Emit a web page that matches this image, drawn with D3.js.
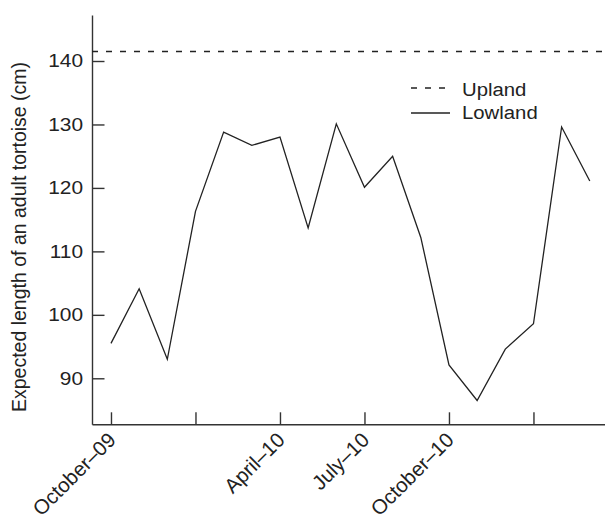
<!DOCTYPE html>
<html>
<head>
<meta charset="utf-8">
<script src="https://cdn.jsdelivr.net/npm/d3@7"></script>
<style>
  html, body { margin: 0; padding: 0; background: #fff; }
  svg { display: block; font-family: "Liberation Sans", Arial, Helvetica, sans-serif; }
</style>
</head>
<body>
<svg id="chart" width="605" height="515"></svg>
<script>
// Monthly survey periods, October 2009 to March 2011
const months = ["Oct-09", "Nov-09", "Dec-09", "Jan-10", "Feb-10", "Mar-10",
                "Apr-10", "May-10", "Jun-10", "Jul-10", "Aug-10", "Sep-10",
                "Oct-10", "Nov-10", "Dec-10", "Jan-11", "Feb-11", "Mar-11"];

// Expected adult length (cm) in the lowland population, per month
const lowland = [95.5, 104.1, 93.0, 116.3, 128.8, 126.7, 128.0, 113.7, 130.1,
                 120.1, 125.0, 112.2, 92.1, 86.5, 94.6, 98.6, 129.6, 121.1];

// Upland population: constant expected adult length (cm)
const upland = 141.5;

// Quarterly x ticks (month index) and their labels
const xTickIndex = [0, 3, 6, 9, 12, 15];
const xTickLabels = ["October\u201309", "", "April\u201310", "July\u201310", "October\u201310", ""];

const yTicks = [90, 100, 110, 120, 130, 140];
const legendItems = ["Upland", "Lowland"];

const svg = d3.select("#chart");
const ink = "#222";
const wide = 1.13;   // horizontal widening of the lettering

const x = d3.scaleLinear().domain([-0.674, 17.54]).range([92, 605]);
const y = d3.scaleLinear().domain([82.75, 147.25]).range([424.3, 15]);

// Y axis with inward ticks
const yAxis = svg.append("g")
  .attr("transform", `translate(${x.range()[0]},0)`)
  .call(d3.axisLeft(y).tickValues(yTicks).tickSize(-12.5).tickPadding(9).tickSizeOuter(0));

// X axis with inward ticks, labels drawn separately
const xAxis = svg.append("g")
  .attr("transform", `translate(0,${y.range()[0]})`)
  .call(d3.axisBottom(x).tickValues(xTickIndex).tickSize(-12).tickSizeOuter(0).tickFormat(""));

[yAxis, xAxis].forEach(g => {
  g.select(".domain").attr("stroke", "#333").attr("stroke-width", 1.4);
  g.selectAll(".tick line").attr("stroke", "#333").attr("stroke-width", 1.4);
});

// Widen the y tick labels about their right edge
yAxis.selectAll(".tick text").each(function () {
  const t = d3.select(this);
  const tx = +t.attr("x");
  t.attr("x", 0)
   .attr("transform", `translate(${tx},0) scale(${wide},1)`)
   .attr("fill", ink)
   .style("font-size", "18.5px")
   .style("font-family", "Liberation Sans, Arial, sans-serif");
});

// Rotated month labels
svg.append("g").selectAll("text")
  .data(xTickIndex.map((d, i) => ({ idx: d, label: xTickLabels[i] })).filter(d => d.label))
  .join("text")
  .attr("transform", d => `translate(${x(d.idx) + 6},${y.range()[0] + 17}) rotate(-45)`)
  .attr("text-anchor", "end")
  .attr("fill", ink)
  .style("font-size", "20.5px")
  .text(d => d.label);

// Y axis title
svg.append("text")
  .attr("transform", "translate(26,237) rotate(-90)")
  .attr("text-anchor", "middle")
  .attr("fill", ink)
  .style("font-size", "19.5px")
  .text("Expected length of an adult tortoise (cm)");

// Upland reference line
svg.append("line")
  .attr("x1", x.range()[0]).attr("x2", x.range()[1])
  .attr("y1", y(upland)).attr("y2", y(upland))
  .attr("stroke", ink).attr("stroke-width", 1.3)
  .attr("stroke-dasharray", "6,8");

// Lowland series
const line = d3.line().x((d, i) => x(i)).y(d => y(d));
svg.append("path")
  .datum(lowland)
  .attr("d", line)
  .attr("fill", "none")
  .attr("stroke", ink)
  .attr("stroke-width", 1.3)
  .attr("stroke-linejoin", "miter");

// Legend
const legend = svg.append("g").attr("transform", "translate(411,0)");
const legendRows = [
  { name: legendItems[0], dash: "6,8", len: 35, ly: 88, ty: 96 },
  { name: legendItems[1], dash: null, len: 39, ly: 113, ty: 119 }
];
legendRows.forEach(r => {
  legend.append("line")
    .attr("x1", 0).attr("x2", r.len)
    .attr("y1", r.ly).attr("y2", r.ly)
    .attr("stroke", ink).attr("stroke-width", 1.3)
    .attr("stroke-dasharray", r.dash);
  legend.append("text")
    .attr("transform", `translate(51,${r.ty}) scale(${wide},1)`)
    .attr("fill", ink)
    .style("font-size", "18px")
    .text(r.name);
});
</script>
</body>
</html>
